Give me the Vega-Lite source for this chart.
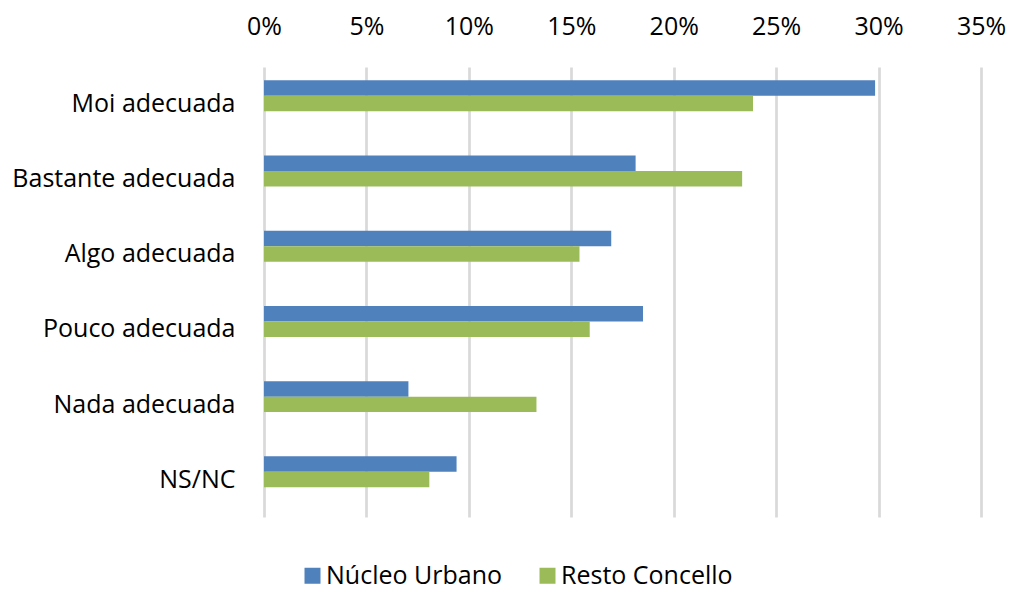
{
  "$schema": "https://vega.github.io/schema/vega-lite/v6.json",
  "width": 717,
  "height": 450,
  "autosize": {"type": "none"},
  "padding": {"left": 264, "top": 67, "right": 28, "bottom": 74},
  "background": "white",
  "config": {"view": {"stroke": null}, "font": "Open Sans"},
  "data": {
    "values": [
      {"cat": "Moi adecuada", "serie": "Núcleo Urbano", "value": 0.2983},
      {"cat": "Moi adecuada", "serie": "Resto Concello", "value": 0.2387},
      {"cat": "Bastante adecuada", "serie": "Núcleo Urbano", "value": 0.1814},
      {"cat": "Bastante adecuada", "serie": "Resto Concello", "value": 0.2334},
      {"cat": "Algo adecuada", "serie": "Núcleo Urbano", "value": 0.1695},
      {"cat": "Algo adecuada", "serie": "Resto Concello", "value": 0.154},
      {"cat": "Pouco adecuada", "serie": "Núcleo Urbano", "value": 0.185},
      {"cat": "Pouco adecuada", "serie": "Resto Concello", "value": 0.159},
      {"cat": "Nada adecuada", "serie": "Núcleo Urbano", "value": 0.0705},
      {"cat": "Nada adecuada", "serie": "Resto Concello", "value": 0.133},
      {"cat": "NS/NC", "serie": "Núcleo Urbano", "value": 0.094},
      {"cat": "NS/NC", "serie": "Resto Concello", "value": 0.0807}
    ]
  },
  "mark": {"type": "bar"},
  "encoding": {
    "y": {
      "field": "cat",
      "type": "nominal",
      "sort": null,
      "scale": {"paddingInner": 0.588, "paddingOuter": 0.286, "align": 0.31},
      "axis": {
        "title": null,
        "domain": false,
        "ticks": false,
        "tickSize": 0,
        "labelPadding": 29,
        "labelOffset": 8,
        "labelLimit": 400,
        "labelFontSize": 25,
        "labelColor": "#000000",
        "labelFont": "Open Sans"
      }
    },
    "yOffset": {"field": "serie", "type": "nominal", "sort": ["Núcleo Urbano", "Resto Concello"], "scale": {"paddingInner": 0, "paddingOuter": 0}},
    "x": {
      "field": "value",
      "type": "quantitative",
      "scale": {"domain": [0, 0.35], "nice": false},
      "axis": {
        "orient": "top",
        "title": null,
        "values": [0, 0.05, 0.1, 0.15, 0.2, 0.25, 0.3, 0.35],
        "format": ".0%",
        "domain": false,
        "ticks": false,
        "tickSize": 0,
        "labelPadding": 28,
        "labelFontSize": 25,
        "labelColor": "#000000",
        "labelFont": "Open Sans",
        "labelFlush": false,
        "grid": true,
        "gridColor": "#d9d9d9",
        "gridWidth": 2.7
      }
    },
    "color": {
      "field": "serie",
      "type": "nominal",
      "sort": ["Núcleo Urbano", "Resto Concello"],
      "scale": {"domain": ["Núcleo Urbano", "Resto Concello"], "range": ["#4f81bd", "#9bbb59"]},
      "legend": {
        "title": null,
        "orient": "none",
        "direction": "horizontal",
        "legendX": 36,
        "legendY": 496,
        "symbolType": "square",
        "symbolSize": 256,
        "symbolStrokeWidth": 0,
        "labelFontSize": 25,
        "labelFont": "Open Sans",
        "labelColor": "#000000",
        "labelOffset": 1,
        "labelLimit": 400,
        "columnPadding": 32
      }
    }
  }
}
